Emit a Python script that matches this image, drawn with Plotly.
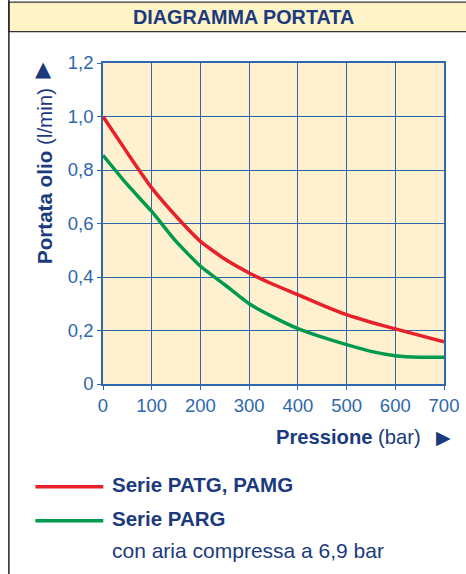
import plotly.graph_objects as go

# Data
pressione = [0, 50, 100, 150, 200, 250, 300, 350, 400, 450, 500, 550, 600, 650, 700]
serie_patg_pamg = [1.0, 0.864, 0.733, 0.627, 0.533, 0.467, 0.415, 0.372, 0.334, 0.295, 0.259, 0.231, 0.206, 0.182, 0.158]
serie_parg = [0.855, 0.745, 0.645, 0.533, 0.44, 0.371, 0.30, 0.25, 0.207, 0.175, 0.147, 0.122, 0.106, 0.10, 0.10]

x_ticks = [0, 100, 200, 300, 400, 500, 600, 700]
y_ticks = [0, 0.2, 0.4, 0.6, 0.8, 1.0, 1.2]
y_tick_labels = ["0", "0,2", "0,4", "0,6", "0,8", "1,0", "1,2"]

W, H = 466, 574
L, R, T, B = 102.7, 444.0, 63.3, 384.3
PW, PH = R - L, B - T

def px(x):
    return (x - L) / PW

def py(y):
    return (B - y) / PH

BLUE = "#2E67AC"
NAVY = "#1B3A7E"
RED = "#E8202A"
GREEN = "#009A4E"
FONT = "Liberation Sans"

fig = go.Figure()
fig.add_trace(go.Scatter(x=pressione, y=serie_patg_pamg, mode="lines",
                         line=dict(color=RED, width=3.5, shape="spline", smoothing=0.5),
                         showlegend=False, hoverinfo="skip"))
fig.add_trace(go.Scatter(x=pressione, y=serie_parg, mode="lines",
                         line=dict(color=GREEN, width=3.5, shape="spline", smoothing=0.5),
                         showlegend=False, hoverinfo="skip"))

axis_common = dict(showgrid=True, gridcolor=BLUE, gridwidth=1.3, showline=True,
                   linecolor=BLUE, linewidth=1.5, mirror=True, ticks="outside",
                   ticklen=4, tickcolor=BLUE, zeroline=False,
                   tickfont=dict(family=FONT, size=18.5, color=BLUE))

fig.update_xaxes(range=[0, 700], tickvals=x_ticks, ticktext=[str(v) for v in x_ticks], **axis_common)
fig.update_yaxes(range=[0, 1.2], tickvals=y_ticks, ticktext=y_tick_labels, **axis_common)

shapes = []
# left frame line
shapes.append(dict(type="line", xref="paper", yref="paper", x0=px(8.5), x1=px(8.5),
                   y0=py(0), y1=py(600), line=dict(color="#222222", width=1.5)))
# title band
shapes.append(dict(type="rect", xref="paper", yref="paper", x0=px(8.5), x1=px(480),
                   y0=py(2.5), y1=py(32), fillcolor="#FFF3C8",
                   line=dict(color="#333333", width=1.2), layer="below"))
# legend lines
shapes.append(dict(type="line", xref="paper", yref="paper", x0=px(35), x1=px(103),
                   y0=py(487), y1=py(487), line=dict(color=RED, width=3.5)))
shapes.append(dict(type="line", xref="paper", yref="paper", x0=px(35), x1=px(103),
                   y0=py(521), y1=py(521), line=dict(color=GREEN, width=3.5)))

annotations = [
    dict(text="<b>DIAGRAMMA PORTATA</b>", x=px(243), y=py(17.5), xref="paper", yref="paper",
         showarrow=False, xanchor="center", yanchor="middle",
         font=dict(family=FONT, size=19.8, color=NAVY)),
    dict(text="▲", x=px(43), y=py(69), xref="paper", yref="paper", showarrow=False,
         xanchor="center", yanchor="middle", font=dict(family="DejaVu Sans", size=21, color=NAVY)),
    dict(text="<b>Portata olio</b> (l/min)", x=px(44), y=py(176), xref="paper", yref="paper",
         showarrow=False, textangle=-90, xanchor="center", yanchor="middle",
         font=dict(family=FONT, size=20.6, color=NAVY)),
    dict(text="<b>Pressione</b> (bar)", x=px(423), y=py(437), xref="paper", yref="paper",
         showarrow=False, xanchor="right", yanchor="middle",
         font=dict(family=FONT, size=20.2, color=NAVY)),
    dict(text="▶", x=px(443), y=py(437), xref="paper", yref="paper", showarrow=False,
         xanchor="center", yanchor="middle", font=dict(family="DejaVu Sans", size=19, color=NAVY)),
    dict(text="<b>Serie PATG, PAMG</b>", x=px(110), y=py(485), xref="paper", yref="paper",
         showarrow=False, xanchor="left", yanchor="middle",
         font=dict(family=FONT, size=20.5, color=NAVY)),
    dict(text="<b>Serie PARG</b>", x=px(110), y=py(519), xref="paper", yref="paper",
         showarrow=False, xanchor="left", yanchor="middle",
         font=dict(family=FONT, size=20.5, color=NAVY)),
    dict(text="con aria compressa a 6,9 bar", x=px(110), y=py(551), xref="paper", yref="paper",
         showarrow=False, xanchor="left", yanchor="middle",
         font=dict(family=FONT, size=21, color=NAVY)),
]

fig.update_layout(
    width=W, height=H,
    margin=dict(l=L, r=W - R, t=T, b=H - B, autoexpand=False),
    paper_bgcolor="white", plot_bgcolor="#FFF0CF",
    shapes=shapes, annotations=annotations, showlegend=False,
)

fig.write_html("out.html", config={"displayModeBar": False},
               post_script="document.body.style.margin='0px';document.body.style.padding='0px';"
                           "document.body.style.overflow='hidden';")
